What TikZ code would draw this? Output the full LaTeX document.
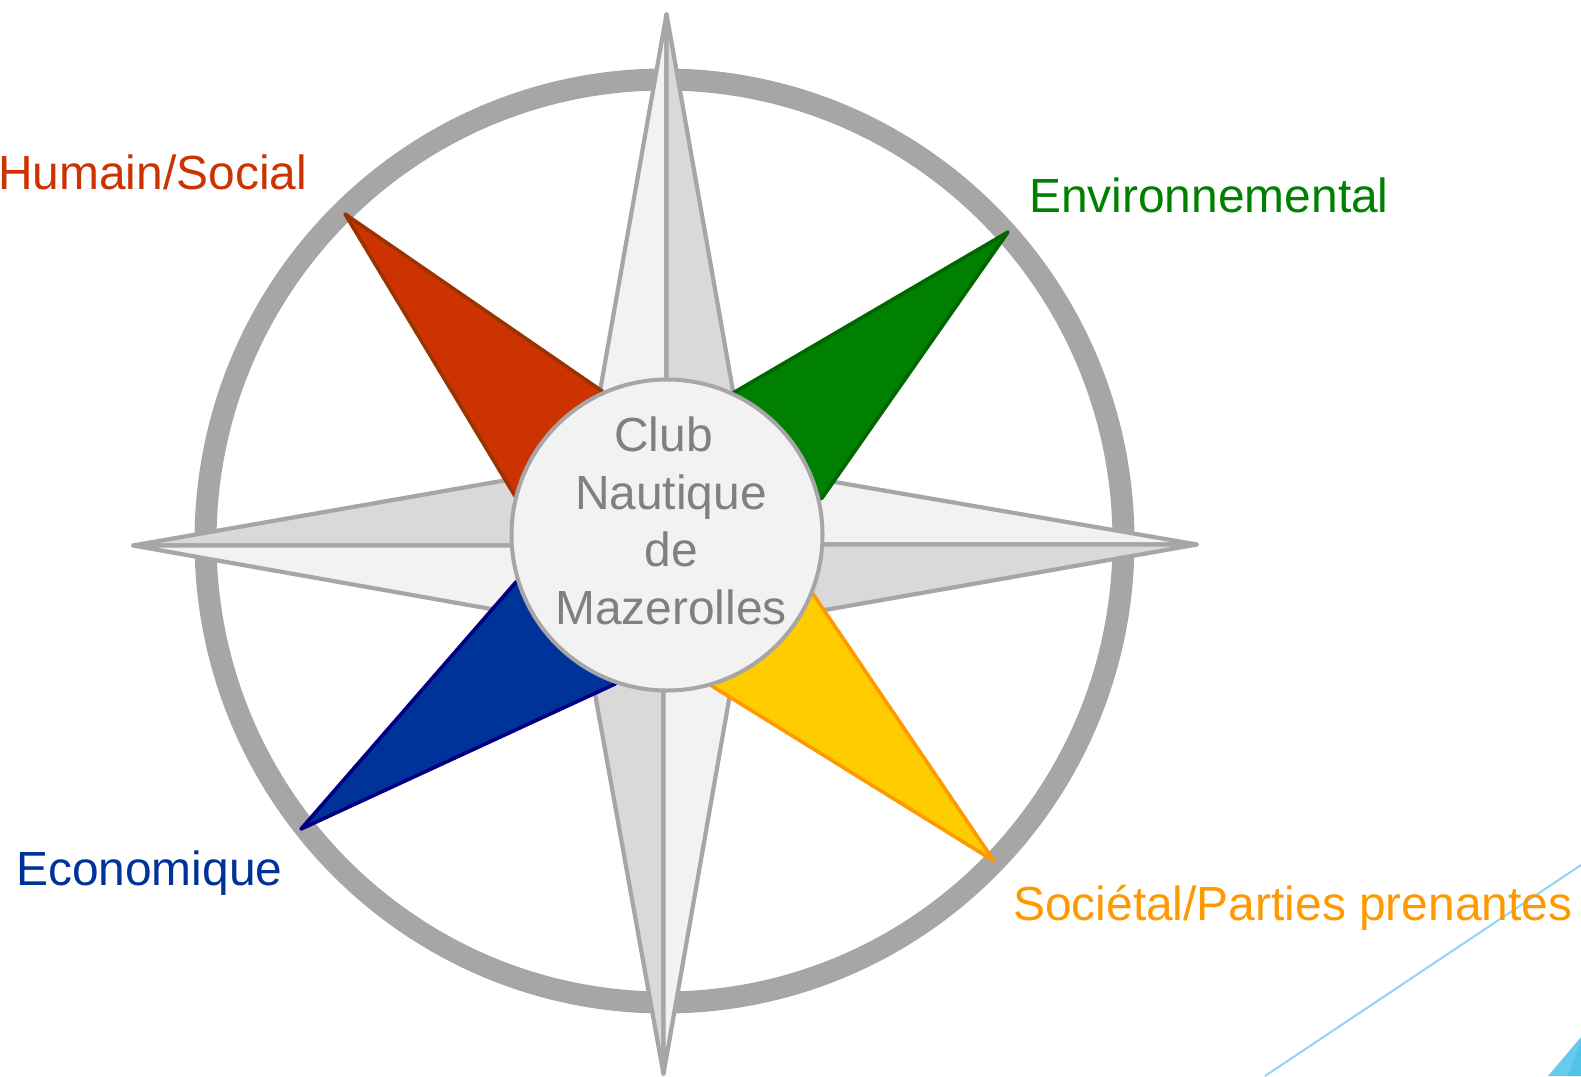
\documentclass[tikz,border=0pt]{standalone}
\usepackage{fontspec}
\setmainfont{Liberation Sans}
\definecolor{ringgrey}{HTML}{A6A6A6}
\definecolor{lightpt}{HTML}{F2F2F2}
\definecolor{darkpt}{HTML}{D9D9D9}
\definecolor{decoline}{HTML}{8BD7F0}
\definecolor{decofill}{HTML}{66CBEE}
\definecolor{decodark}{HTML}{4FC3E8}
\tikzset{
  x=1pt,y=-1pt,
  lightray/.style={fill=lightpt,draw=ringgrey,line width=4.2pt,line join=round},
  darkray/.style={fill=darkpt,draw=ringgrey,line width=4.2pt,line join=round},
  petal/.style={line width=3.6pt,line join=round},
  label/.style={font=\fontsize{47.9}{57.5}\selectfont,inner sep=0pt,anchor=base west},
}
\begin{document}
\begin{tikzpicture}
\useasboundingbox (0,0) rectangle (1581,1076);
% decoration in the corner
\draw[decoline,line width=2pt] (1581,865) -- (1265,1076);
\fill[decofill] (1548,1076) -- (1581,1037) -- (1581,1076) -- cycle;
\fill[decodark] (1581,1041) -- (1581,1076) -- (1568,1076) -- cycle;
% ring
\coordinate (ringc) at (664.5,541);
\draw[ringgrey,line width=22pt] (ringc) ellipse [x radius=459,y radius=461.5];
% rose centre and points
\coordinate (c) at (667,535);
\coordinate (N) at (666.5,14);
\coordinate (E) at (1197,544.5);
\coordinate (S) at (663.5,1074);
\coordinate (W) at (133,545.5);
\coordinate (Nl) at (600,391);
\coordinate (Nr) at (733,391);
\coordinate (Eu) at (829,481);
\coordinate (El) at (825,610);
\coordinate (Sl) at (595,694);
\coordinate (Sr) at (730,694);
\coordinate (Wu) at (507,480);
\coordinate (Wl) at (491,609);
\draw[lightray] (N) -- (Nl) -- (N |- c) -- cycle;
\draw[darkray]  (N) -- (Nr) -- (N |- c) -- cycle;
\draw[lightray] (E) -- (Eu) -- (c |- E) -- cycle;
\draw[darkray]  (E) -- (El) -- (c |- E) -- cycle;
\draw[darkray]  (S) -- (Sl) -- (S |- c) -- cycle;
\draw[lightray] (S) -- (Sr) -- (S |- c) -- cycle;
\draw[darkray]  (W) -- (Wu) -- (c |- W) -- cycle;
\draw[lightray] (W) -- (Wl) -- (c |- W) -- cycle;
% coloured points
\draw[petal,fill={rgb,255:red,204;green,51;blue,0},draw={rgb,255:red,153;green,51;blue,0}]
  (345,214) -- (602,391) -- (c) -- (515,496) -- cycle;
\draw[petal,fill={rgb,255:red,0;green,128;blue,0},draw={rgb,255:red,0;green,102;blue,0}]
  (1008,232) -- (733,393) -- (c) -- (822,498) -- cycle;
\draw[petal,fill={rgb,255:red,255;green,204;blue,0},draw={rgb,255:red,255;green,153;blue,0}]
  (994,861) -- (813,594) -- (c) -- (712,686) -- cycle;
\draw[petal,fill={rgb,255:red,0;green,51;blue,153},draw={rgb,255:red,0;green,0;blue,128}]
  (301,829) -- (516,582) -- (c) -- (615,684) -- cycle;
% hub
\node[circle,minimum size=311pt,inner sep=0pt,fill=lightpt,draw=ringgrey,line width=4pt] (hub) at (c) {};
\node[inner sep=0pt,align=center,text={rgb,255:red,128;green,128;blue,128},font=\fontsize{47.9}{57.5}\selectfont] (hubtext) at (671,521)
  {Club\hspace*{15pt}\\Nautique\hspace*{14pt}\\de\hspace*{15pt}\\Mazerolles};
% labels
\node[label,text={rgb,255:red,204;green,51;blue,0}] (hum) at (-2,189.5) {Humain/Social};
\node[label,text={rgb,255:red,0;green,128;blue,0}] (env) at (1029,212) {Environnemental};
\node[label,text={rgb,255:red,0;green,51;blue,153}] (eco) at (16,885) {Economique};
\node[label,text={rgb,255:red,255;green,153;blue,0}] (soc) at (1013,920) {Sociétal/Parties prenantes};
\end{tikzpicture}
\end{document}
